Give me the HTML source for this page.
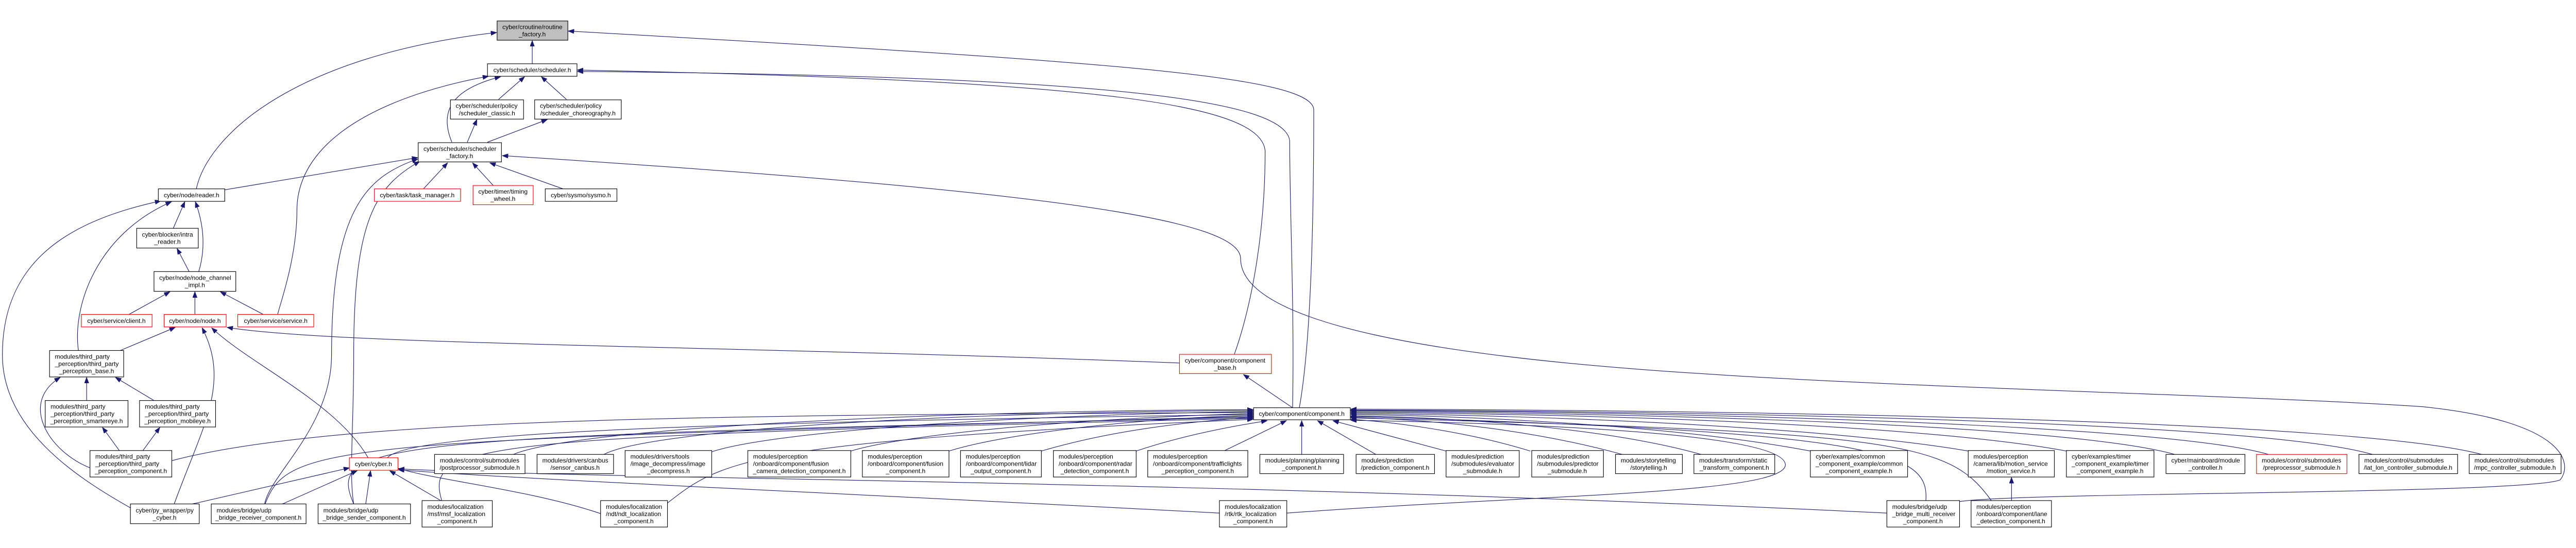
<!DOCTYPE html>
<html><head><meta charset="utf-8">
<style>
html,body{margin:0;padding:0;background:#fff;width:100%;height:100%;overflow:hidden;}
svg{display:block;}
text{font-family:"Liberation Sans",Arial,sans-serif;font-size:13px;fill:#000;}
.e{fill:none;stroke:#191970;stroke-width:1.2;marker-end:url(#a);}
.n{fill:#fff;stroke:#000;stroke-width:1.2;}
.r{fill:#fff;stroke:#ff0000;stroke-width:1.2;}
</style></head><body>
<svg width="100%" height="100%" viewBox="0 0 5353 1064" xmlns="http://www.w3.org/2000/svg" overflow="hidden">
<defs>
<marker id="a" markerWidth="13" markerHeight="10" refX="12" refY="4.5" orient="auto" markerUnits="userSpaceOnUse">
<path d="M0,0 L12,4.5 L0,9 z" fill="#191970" stroke="#191970"/>
</marker>
</defs>

<!-- edges -->
<path class="e" d="M1106,95 L1106,47"/>
<path class="e" d="M408,355 C430,250 600,80 1032,30"/>
<path class="e" d="M2700,810 C2720,700 2730,500 2730,190 C2725,120 2300,90 1181,27"/>
<path class="e" d="M1036,169 L1090,122"/>
<path class="e" d="M1177,169 L1125,122"/>
<path class="e" d="M939,258 C915,200 930,150 1040,122"/>
<path class="e" d="M971,258 L991,211"/>
<path class="e" d="M1013,258 L1137,211"/>
<path class="e" d="M2565,699 C2600,600 2629,450 2629,276 C2620,180 2300,130 1200,108"/>
<path class="e" d="M2686,810 C2690,600 2680,400 2680,255 C2670,170 2300,120 1200,111"/>
<path class="e" d="M577,616 C580,600 617,500 617,400 C617,250 800,160 1015,121"/>
<path class="e" d="M467,357 L868,290"/>
<path class="e" d="M880,355 L930,301"/>
<path class="e" d="M1025,348 L982,301"/>
<path class="e" d="M1170,355 L1018,301"/>
<path class="e" d="M550,1010 C560,950 689,850 689,700 C689,400 760,330 868,293"/>
<path class="e" d="M735,1010 C725,950 735,850 735,700 C735,420 780,350 872,298"/>
<path class="e" d="M4072,1005 C4200,985 5250,990 5320,960 C5345,930 5340,840 5036,808 C4700,785 4000,770 3550,740 C2900,700 2578,620 2578,500 C2578,420 2200,360 1044,286"/>
<path class="e" d="M360,437 L384,382"/>
<path class="e" d="M393,527 L368,479"/>
<path class="e" d="M413,527 C430,470 420,420 406,382"/>
<path class="e" d="M163,691 C150,600 200,450 356,382"/>
<path class="e" d="M271,1018 C150,950 5,850 5,700 C5,500 150,420 334,380"/>
<path class="e" d="M268,616 L353,569"/>
<path class="e" d="M405,616 L405,569"/>
<path class="e" d="M547,616 L458,569"/>
<path class="e" d="M250,691 L364,643"/>
<path class="e" d="M362,1010 C420,850 480,760 420,644"/>
<path class="e" d="M765,914 C700,800 520,720 440,644"/>
<path class="e" d="M2451,717 C1500,680 700,680 472,643"/>
<path class="e" d="M180,795 L180,747"/>
<path class="e" d="M320,795 L240,747"/>
<path class="e" d="M187,935 C100,900 40,800 125,747"/>
<path class="e" d="M248,899 L213,851"/>
<path class="e" d="M297,899 L332,851"/>
<path class="e" d="M357,920 C700,830 1500,825 2604,820"/>
<path class="e" d="M400,1010 L726,935"/>
<path class="e" d="M587,1010 L742,941"/>
<path class="e" d="M760,1010 L770,941"/>
<path class="e" d="M916,1003 L810,941"/>
<path class="e" d="M1248,1030 C1100,980 900,960 828,936"/>
<path class="e" d="M2534,1029 C1800,990 1100,960 828,939"/>
<path class="e" d="M3921,1029 C2500,960 1300,960 828,937"/>
<path class="e" d="M805,914 C850,860 1500,840 2604,824"/>
<!-- fan to component.h -->
<path class="e" d="M1067,907 C1200,850 2000,815 2604,814"/>
<path class="e" d="M1255,907 C1350,855 2000,818 2604,816"/>
<path class="e" d="M1478,902 C1600,860 2100,825 2604,818"/>
<path class="e" d="M1768,900 C1900,860 2300,830 2604,822"/>
<path class="e" d="M1972,900 C2100,860 2400,830 2604,826"/>
<path class="e" d="M2164,900 C2300,860 2450,840 2604,830"/>
<path class="e" d="M2361,900 C2450,870 2550,850 2633,837"/>
<path class="e" d="M2545,899 L2673,837"/>
<path class="e" d="M2705,907 L2705,837"/>
<path class="e" d="M2859,907 L2738,837"/>
<path class="e" d="M3005,900 L2770,837"/>
<path class="e" d="M3180,900 C3050,860 2900,840 2807,834"/>
<path class="e" d="M3371,907 C3200,860 3000,835 2807,830"/>
<path class="e" d="M3535,907 C3350,855 3050,830 2807,827"/>
<path class="e" d="M3762,900 C3500,850 3100,828 2807,824"/>
<path class="e" d="M4090,900 C3800,850 3200,825 2807,822"/>
<path class="e" d="M4294,900 C4000,845 3300,822 2807,820"/>
<path class="e" d="M4519,907 C4300,845 3400,820 2807,818"/>
<path class="e" d="M4714,907 C4500,845 3500,818 2807,816"/>
<path class="e" d="M4930,907 C4700,840 3600,817 2807,815"/>
<path class="e" d="M5157,907 C4900,838 3700,815 2807,813"/>
<path class="e" d="M4002,1003 C4010,900 3900,860 2807,828"/>
<path class="e" d="M4138,1003 C4050,880 3950,860 2807,831"/>
<path class="e" d="M2674,1029 C3200,990 3700,990 3710,930 C3715,870 3300,845 2807,836"/>
<path class="e" d="M551,1010 C600,880 700,880 2604,828"/>
<path class="e" d="M735,1010 C680,880 760,870 2604,830"/>
<path class="e" d="M918,1003 C880,880 1000,870 2604,832"/>
<path class="e" d="M1387,1008 C1500,920 1550,880 2604,834"/>
<path class="e" d="M2686,810 L2584,741"/>
<path class="e" d="M4180,1003 L4180,955"/>

<!-- nodes -->
<rect x="1033" y="6" width="147" height="40" fill="#bfbfbf" stroke="#000" stroke-width="1.2"/>
<text x="1044" y="23">cyber/croutine/routine</text><text x="1106" y="38" text-anchor="middle">_factory.h</text>
<rect class="n" x="1013" y="95" width="186" height="26"/><text x="1106" y="112.5" text-anchor="middle">cyber/scheduler/scheduler.h</text>
<rect class="n" x="936" y="170" width="152" height="40"/><text x="947" y="187">cyber/scheduler/policy</text><text x="1012" y="202" text-anchor="middle">/scheduler_classic.h</text>
<rect class="n" x="1111" y="170" width="180" height="40"/><text x="1122" y="187">cyber/scheduler/policy</text><text x="1201" y="202" text-anchor="middle">/scheduler_choreography.h</text>
<rect class="n" x="869" y="259" width="173" height="40"/><text x="880" y="276">cyber/scheduler/scheduler</text><text x="955" y="291" text-anchor="middle">_factory.h</text>
<rect class="n" x="329" y="355" width="138" height="26"/><text x="398" y="372.5" text-anchor="middle">cyber/node/reader.h</text>
<rect class="r" x="778" y="355" width="179" height="26"/><text x="867" y="372.5" text-anchor="middle">cyber/task/task_manager.h</text>
<rect class="r" x="983" y="348" width="125" height="40"/><text x="994" y="365">cyber/timer/timing</text><text x="1045" y="380" text-anchor="middle">_wheel.h</text>
<rect class="n" x="1133" y="355" width="149" height="26"/><text x="1207" y="372.5" text-anchor="middle">cyber/sysmo/sysmo.h</text>
<rect class="n" x="284" y="437" width="128" height="41"/><text x="295" y="454.5">cyber/blocker/intra</text><text x="348" y="469.5" text-anchor="middle">_reader.h</text>
<rect class="n" x="320" y="527" width="170" height="41"/><text x="331" y="544.5">cyber/node/node_channel</text><text x="405" y="559.5" text-anchor="middle">_impl.h</text>
<rect class="r" x="169" y="616" width="147" height="26"/><text x="242" y="633.5" text-anchor="middle">cyber/service/client.h</text>
<rect class="r" x="341" y="616" width="129" height="26"/><text x="405" y="633.5" text-anchor="middle">cyber/node/node.h</text>
<rect class="r" x="494" y="616" width="158" height="26"/><text x="573" y="633.5" text-anchor="middle">cyber/service/service.h</text>
<rect class="n" x="103" y="691" width="154" height="55"/><text x="114" y="708">modules/third_party</text><text x="114" y="723">_perception/third_party</text><text x="180" y="738" text-anchor="middle">_perception_base.h</text>
<rect class="n" x="94" y="795" width="172" height="55"/><text x="105" y="812">modules/third_party</text><text x="105" y="827">_perception/third_party</text><text x="180" y="842" text-anchor="middle">_perception_smartereye.h</text>
<rect class="n" x="290" y="795" width="158" height="55"/><text x="301" y="812">modules/third_party</text><text x="301" y="827">_perception/third_party</text><text x="369" y="842" text-anchor="middle">_perception_mobileye.h</text>
<rect class="n" x="187" y="899" width="170" height="55"/><text x="198" y="916">modules/third_party</text><text x="198" y="931">_perception/third_party</text><text x="272" y="946" text-anchor="middle">_perception_component.h</text>
<rect class="r" x="726" y="914" width="101" height="26"/><text x="776" y="931.5" text-anchor="middle">cyber/cyber.h</text>
<rect class="n" x="271" y="1010" width="143" height="41"/><text x="282" y="1027.5">cyber/py_wrapper/py</text><text x="342" y="1042.5" text-anchor="middle">_cyber.h</text>
<rect class="n" x="439" y="1010" width="197" height="41"/><text x="450" y="1027.5">modules/bridge/udp</text><text x="537" y="1042.5" text-anchor="middle">_bridge_receiver_component.h</text>
<rect class="n" x="661" y="1010" width="192" height="41"/><text x="672" y="1027.5">modules/bridge/udp</text><text x="757" y="1042.5" text-anchor="middle">_bridge_sender_component.h</text>
<rect class="n" x="877" y="1003" width="146" height="55"/><text x="888" y="1020">modules/localization</text><text x="888" y="1035">/msf/msf_localization</text><text x="950" y="1050" text-anchor="middle">_component.h</text>
<rect class="n" x="1248" y="1003" width="139" height="55"/><text x="1259" y="1020">modules/localization</text><text x="1259" y="1035">/ndt/ndt_localization</text><text x="1317" y="1050" text-anchor="middle">_component.h</text>
<rect class="n" x="2534" y="1003" width="140" height="55"/><text x="2545" y="1020">modules/localization</text><text x="2545" y="1035">/rtk/rtk_localization</text><text x="2604" y="1050" text-anchor="middle">_component.h</text>
<rect class="n" x="3921" y="1003" width="151" height="55"/><text x="3932" y="1020">modules/bridge/udp</text><text x="3932" y="1035">_bridge_multi_receiver</text><text x="3996" y="1050" text-anchor="middle">_component.h</text>
<rect class="n" x="4096" y="1003" width="167" height="55"/><text x="4107" y="1020">modules/perception</text><text x="4107" y="1035">/onboard/component/lane</text><text x="4179" y="1050" text-anchor="middle">_detection_component.h</text>

<rect class="n" x="903" y="907" width="188" height="40"/><text x="914" y="924">modules/control/submodules</text><text x="997" y="939" text-anchor="middle">/postprocessor_submodule.h</text>
<rect class="n" x="1116" y="907" width="159" height="40"/><text x="1127" y="924">modules/drivers/canbus</text><text x="1195" y="939" text-anchor="middle">/sensor_canbus.h</text>
<rect class="n" x="1299" y="899" width="180" height="55"/><text x="1310" y="916">modules/drivers/tools</text><text x="1310" y="931">/image_decompress/image</text><text x="1389" y="946" text-anchor="middle">_decompress.h</text>
<rect class="n" x="1554" y="899" width="214" height="55"/><text x="1565" y="916">modules/perception</text><text x="1565" y="931">/onboard/component/fusion</text><text x="1661" y="946" text-anchor="middle">_camera_detection_component.h</text>
<rect class="n" x="1792" y="899" width="180" height="55"/><text x="1803" y="916">modules/perception</text><text x="1803" y="931">/onboard/component/fusion</text><text x="1882" y="946" text-anchor="middle">_component.h</text>
<rect class="n" x="1996" y="899" width="168" height="55"/><text x="2007" y="916">modules/perception</text><text x="2007" y="931">/onboard/component/lidar</text><text x="2080" y="946" text-anchor="middle">_output_component.h</text>
<rect class="n" x="2189" y="899" width="172" height="55"/><text x="2200" y="916">modules/perception</text><text x="2200" y="931">/onboard/component/radar</text><text x="2275" y="946" text-anchor="middle">_detection_component.h</text>
<rect class="n" x="2385" y="899" width="208" height="55"/><text x="2396" y="916">modules/perception</text><text x="2396" y="931">/onboard/component/trafficlights</text><text x="2489" y="946" text-anchor="middle">_perception_component.h</text>
<rect class="n" x="2618" y="907" width="174" height="40"/><text x="2629" y="924">modules/planning/planning</text><text x="2705" y="939" text-anchor="middle">_component.h</text>
<rect class="n" x="2818" y="907" width="163" height="40"/><text x="2829" y="924">modules/prediction</text><text x="2899" y="939" text-anchor="middle">/prediction_component.h</text>
<rect class="n" x="3005" y="899" width="152" height="55"/><text x="3016" y="916">modules/prediction</text><text x="3016" y="931">/submodules/evaluator</text><text x="3081" y="946" text-anchor="middle">_submodule.h</text>
<rect class="n" x="3183" y="899" width="149" height="55"/><text x="3194" y="916">modules/prediction</text><text x="3194" y="931">/submodules/predictor</text><text x="3257" y="946" text-anchor="middle">_submodule.h</text>
<rect class="n" x="3357" y="907" width="139" height="40"/><text x="3368" y="924">modules/storytelling</text><text x="3426" y="939" text-anchor="middle">/storytelling.h</text>
<rect class="n" x="3520" y="907" width="168" height="40"/><text x="3531" y="924">modules/transform/static</text><text x="3604" y="939" text-anchor="middle">_transform_component.h</text>
<rect class="n" x="3762" y="899" width="202" height="55"/><text x="3773" y="916">cyber/examples/common</text><text x="3773" y="931">_component_example/common</text><text x="3863" y="946" text-anchor="middle">_component_example.h</text>
<rect class="n" x="4090" y="899" width="179" height="55"/><text x="4101" y="916">modules/perception</text><text x="4101" y="931">/camera/lib/motion_service</text><text x="4179" y="946" text-anchor="middle">/motion_service.h</text>
<rect class="n" x="4294" y="899" width="182" height="55"/><text x="4305" y="916">cyber/examples/timer</text><text x="4305" y="931">_component_example/timer</text><text x="4385" y="946" text-anchor="middle">_component_example.h</text>
<rect class="n" x="4501" y="907" width="164" height="40"/><text x="4512" y="924">cyber/mainboard/module</text><text x="4583" y="939" text-anchor="middle">_controller.h</text>
<rect class="r" x="4689" y="907" width="188" height="40"/><text x="4700" y="924">modules/control/submodules</text><text x="4783" y="939" text-anchor="middle">/preprocessor_submodule.h</text>
<rect class="n" x="4902" y="907" width="205" height="40"/><text x="4913" y="924">modules/control/submodules</text><text x="5004" y="939" text-anchor="middle">/lat_lon_controller_submodule.h</text>
<rect class="n" x="5131" y="907" width="191" height="40"/><text x="5142" y="924">modules/control/submodules</text><text x="5226" y="939" text-anchor="middle">/mpc_controller_submodule.h</text>

<rect class="r" x="2451" y="699" width="191" height="40"/><text x="2462" y="716">cyber/component/component</text><text x="2546" y="731" text-anchor="middle">_base.h</text>
<rect class="n" x="2605" y="810" width="201" height="25"/><text x="2705" y="827" text-anchor="middle">cyber/component/component.h</text>
</svg>
</body></html>
